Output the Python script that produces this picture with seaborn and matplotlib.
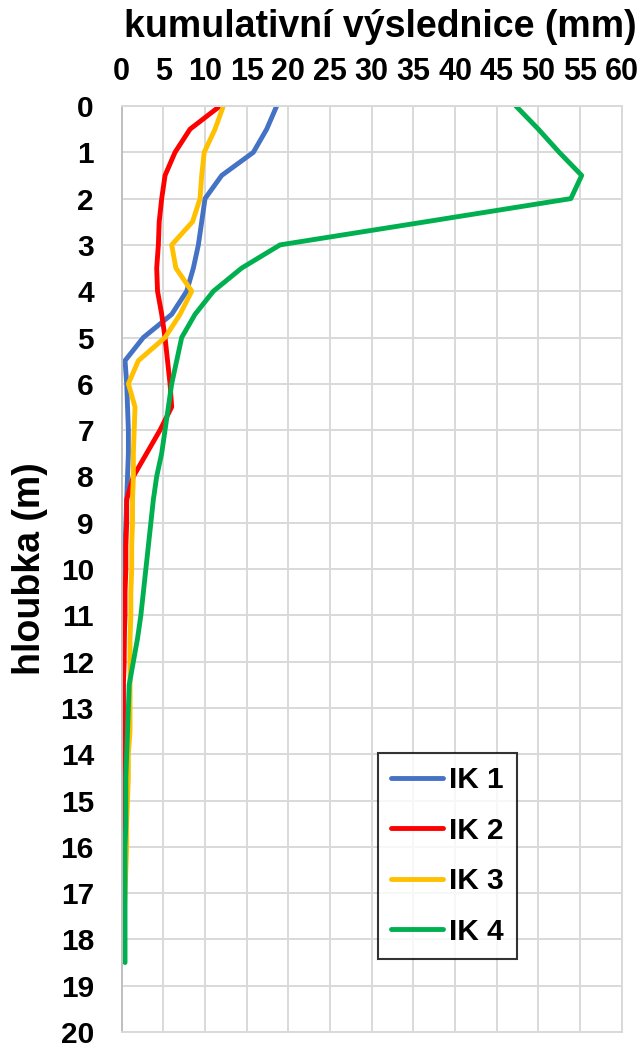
import numpy as np
import pandas as pd
import matplotlib
matplotlib.use("Agg")
import matplotlib.pyplot as plt
import seaborn as sns

# Cumulative inclinometer displacement (mm) per borehole, measured every 0.5 m
depth_ik1 = [i * 0.5 for i in range(36)]   # 0 .. 17.5 m
ik1 = [18.6, 17.4, 15.8, 12.0, 10.0, 9.6, 9.2, 8.6, 7.8, 6.0, 2.6, 0.4,
       0.6, 0.7, 0.8, 0.8, 0.7, 0.6, 0.5, 0.4, 0.4, 0.3, 0.3, 0.3,
       0.2, 0.2, 0.2, 0.2, 0.2, 0.1, 0.1, 0.1, 0.1, 0.1, 0.1, 0.1]

depth_ik2 = [i * 0.5 for i in range(34)]   # 0 .. 16.5 m
ik2 = [11.8, 8.2, 6.4, 5.2, 4.8, 4.5, 4.4, 4.2, 4.3, 4.8, 5.2, 5.5,
       5.8, 6.0, 4.6, 3.0, 1.4, 0.6, 0.6, 0.5, 0.5, 0.4, 0.4, 0.3,
       0.3, 0.2, 0.2, 0.2, 0.1, 0.1, 0.1, 0.1, 0.0, 0.0]

depth_ik3 = [i * 0.5 for i in range(37)]   # 0 .. 18 m
ik3 = [12.2, 11.2, 9.9, 9.6, 9.4, 8.5, 6.0, 6.5, 8.4, 7.0, 5.2, 2.0,
       0.8, 1.6, 1.5, 1.4, 1.4, 1.3, 1.3, 1.2, 1.2, 1.1, 1.1, 1.0,
       1.0, 1.0, 1.0, 1.0, 0.8, 0.8, 0.7, 0.6, 0.6, 0.5, 0.4, 0.3, 0.3]

depth_ik4 = [i * 0.5 for i in range(38)]   # 0 .. 18.5 m
ik4 = [47.3, 50.0, 52.5, 55.2, 53.9, 36.5, 19.0, 14.4, 11.0, 8.8, 7.2, 6.6,
       6.0, 5.6, 5.2, 4.8, 4.2, 3.8, 3.5, 3.2, 2.9, 2.6, 2.3, 1.9,
       1.4, 0.9, 0.8, 0.7, 0.6, 0.5, 0.5, 0.5, 0.4, 0.4, 0.4, 0.4, 0.4, 0.4]

series_names = ["IK 1", "IK 2", "IK 3", "IK 4"]
series_colors = ["#4472C4", "#FF0000", "#FFC000", "#00B050"]

x_ticks = list(range(0, 61, 5))
y_ticks = list(range(0, 21))

frames = []
for name, d, v in zip(series_names,
                      [depth_ik1, depth_ik2, depth_ik3, depth_ik4],
                      [ik1, ik2, ik3, ik4]):
    frames.append(pd.DataFrame({"hloubka": d, "vyslednice": v, "sonda": name}))
df = pd.concat(frames, ignore_index=True)

sns.set_theme(style="white")
plt.rcParams["font.family"] = ["Liberation Sans", "DejaVu Sans"]
plt.rcParams["font.weight"] = "bold"
for key in ["text.color", "axes.labelcolor", "xtick.color", "ytick.color"]:
    plt.rcParams[key] = "black"

fig = plt.figure(figsize=(6.44, 10.47), dpi=100)
W, H = 644, 1047
left, right, top, bottom = 121.7, 621.7, 106, 1032
ax = fig.add_axes([left / W, 1 - bottom / H, (right - left) / W, (bottom - top) / H])

sns.lineplot(data=df, x="vyslednice", y="hloubka", hue="sonda",
             palette=dict(zip(series_names, series_colors)),
             orient="y", sort=False, estimator=None, linewidth=3.5, ax=ax,
             solid_capstyle="round")

ax.set_xlim(0, 60)
ax.set_ylim(20, 0)
ax.set_xticks(x_ticks)
ax.set_yticks(y_ticks)
ax.xaxis.tick_top()
ax.xaxis.set_label_position("top")
ax.tick_params(axis="x", length=0, labelsize=22, pad=14)
ax.tick_params(axis="y", length=0, labelsize=21.5, pad=20)
for lab in ax.get_xticklabels() + ax.get_yticklabels():
    lab.set_fontweight("bold")

ax.set_xlabel("kumulativní výslednice (mm)", fontsize=27, fontweight="bold")
ax.xaxis.set_label_coords((380 - left) / (right - left), 1 + (106 - 27) / (bottom - top))
ax.xaxis.label.set_va("center")
ax.set_ylabel("hloubka (m)", fontsize=27, fontweight="bold")
ax.yaxis.set_label_coords((30 - left) / (right - left), 1 - (569 - top) / (bottom - top))
ax.yaxis.label.set_va("center")

ax.grid(True, color="#D9D9D9", linewidth=1.4)
ax.set_axisbelow(True)
for side, sp in ax.spines.items():
    sp.set_visible(True)
    sp.set_color("#D9D9D9")
    sp.set_linewidth(1.4)
ax.spines["left"].set_color("#BFBFBF")

leg = ax.legend(loc="upper left",
                bbox_to_anchor=((378 - left) / (right - left), 1 - (753 - top) / (bottom - top)),
                frameon=True, fancybox=False, edgecolor="black",
                prop={"weight": "bold", "size": 21.5},
                handlelength=1.73, handletextpad=0.2, labelspacing=0.75,
                borderpad=0.45, borderaxespad=0)
leg.get_frame().set_linewidth(1.5)
for line in leg.get_lines():
    line.set_linewidth(3.5)

fig.savefig("out.png", dpi=100, facecolor="white")
